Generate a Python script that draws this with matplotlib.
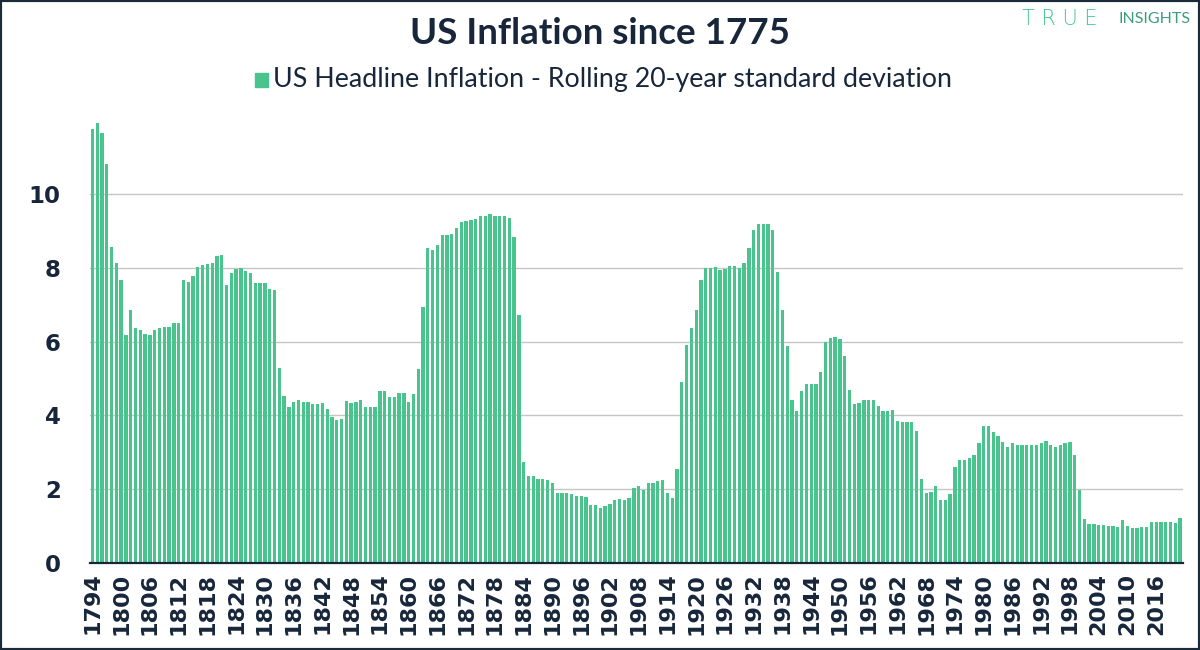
import matplotlib
matplotlib.use("Agg")
import matplotlib.pyplot as plt
from matplotlib.patches import Rectangle
import numpy as np

start_year = 1794
values = [
    # 1794-1849
    11.76, 11.94, 11.67, 10.83, 8.57, 8.14, 7.67, 6.18, 6.85, 6.36,
    6.33, 6.20, 6.17, 6.33, 6.38, 6.41, 6.41, 6.50, 6.51, 7.67,
    7.61, 7.78, 8.03, 8.09, 8.11, 8.12, 8.31, 8.34, 7.54, 7.86,
    7.97, 7.99, 7.92, 7.85, 7.60, 7.60, 7.60, 7.44, 7.40, 5.30,
    4.53, 4.23, 4.36, 4.41, 4.37, 4.37, 4.32, 4.32, 4.33, 4.17,
    3.95, 3.89, 3.90, 4.38, 4.34, 4.36,
    # 1850-1908
    4.41, 4.24, 4.24, 4.23, 4.66, 4.66, 4.50, 4.50, 4.62, 4.62,
    4.36, 4.57, 5.27, 6.95, 8.53, 8.49, 8.62, 8.90, 8.90, 8.92,
    9.09, 9.25, 9.26, 9.31, 9.33, 9.40, 9.41, 9.45, 9.42, 9.42,
    9.42, 9.36, 8.85, 6.72, 2.74, 2.35, 2.35, 2.27, 2.27, 2.24,
    2.17, 1.91, 1.91, 1.91, 1.86, 1.82, 1.81, 1.79, 1.58, 1.58,
    1.48, 1.54, 1.59, 1.71, 1.73, 1.71, 1.75, 2.02, 2.08,
    # 1909-1966
    1.97, 2.18, 2.18, 2.22, 2.24, 1.90, 1.75, 2.54, 4.91, 5.91,
    6.38, 6.86, 7.67, 7.99, 7.99, 8.02, 7.95, 7.97, 8.06, 8.05,
    8.01, 8.12, 8.53, 9.03, 9.19, 9.19, 9.19, 9.02, 7.90, 6.86,
    5.89, 4.42, 4.11, 4.65, 4.84, 4.86, 4.84, 5.19, 5.98, 6.11,
    6.14, 6.06, 5.62, 4.69, 4.30, 4.35, 4.43, 4.43, 4.43, 4.25,
    4.13, 4.11, 4.14, 3.85, 3.81, 3.81, 3.81, 3.58,
    # 1967-2021
    2.27, 1.91, 1.93, 2.08, 1.71, 1.72, 1.88, 2.61, 2.79, 2.79,
    2.85, 2.94, 3.24, 3.71, 3.72, 3.56, 3.43, 3.28, 3.15, 3.24,
    3.19, 3.19, 3.19, 3.21, 3.21, 3.24, 3.31, 3.19, 3.15, 3.19,
    3.25, 3.28, 2.93, 1.97, 1.19, 1.07, 1.07, 1.04, 1.04, 1.00,
    0.99, 0.98, 1.16, 1.00, 0.94, 0.94, 0.97, 0.97, 1.10, 1.10,
    1.10, 1.10, 1.10, 1.08, 1.23,
]
years = list(range(start_year, start_year + len(values)))
tick_years = list(range(1794, 2017, 6))
y_ticks = [0, 2, 4, 6, 8, 10]

title = "US Inflation since 1775"
series_name = "US Headline Inflation - Rolling 20-year standard deviation"

GREEN = "#48c48c"
NAVY = "#17263a"

fig = plt.figure(figsize=(12, 6.5), dpi=100)
fig.patch.set_facecolor("white")
ax = fig.add_axes([90 / 1200, 1 - 563 / 650, 1093 / 1200, 450 / 650])

ax.bar(years, values, width=0.69, color=GREEN, zorder=2)
ax.set_xlim(years[0] - 0.5, years[-1] + 0.6)
ax.set_ylim(0, 12.2)

ax.set_yticks(y_ticks)
ax.set_yticklabels([str(v) for v in y_ticks], fontsize=16.5, fontweight="bold",
                   color=NAVY, family="DejaVu Sans")
ax.set_xticks(tick_years)
ax.set_xticklabels([str(y) for y in tick_years], rotation=90, fontsize=16,
                   fontweight="bold", color=NAVY, family="DejaVu Sans")
ax.tick_params(axis="both", length=0)
ax.tick_params(axis="y", pad=21)
ax.tick_params(axis="x", pad=7)

ax.grid(axis="y", color="#c6c6c6", linewidth=1.0, zorder=0)
ax.set_axisbelow(True)
for s in ["top", "right", "left"]:
    ax.spines[s].set_visible(False)
ax.spines["bottom"].set_color(NAVY)
ax.spines["bottom"].set_linewidth(1.6)
ax.spines["bottom"].set_zorder(3)

# Title
fig.text(0.5, 1 - 33 / 650, title, ha="center", va="center", fontsize=26.5,
         fontweight="bold", color=NAVY, family="Lato")

# Legend (manual)
fig.text(273 / 1200, 1 - 80 / 650, series_name, ha="left", va="center",
         fontsize=19.3, color=NAVY, family="Lato")
fig.patches.append(Rectangle((255 / 1200, 1 - 87 / 650), 13 / 1200, 14 / 650,
                             transform=fig.transFigure, color=GREEN, zorder=5))

# Logo
fig.text(1098 / 1200, 1 - 19 / 650, "T R U E", ha="right", va="center", fontsize=15,
         color="#48c48c", family="DejaVu Sans", fontweight="light")
fig.text(1190 / 1200, 1 - 19 / 650, "INSIGHTS", ha="right", va="center", fontsize=11.5,
         color="#3a9c7a", family="Lato")

# Frame border
fig.patches.append(Rectangle((0, 0), 1, 1, transform=fig.transFigure, fill=False,
                             edgecolor="#1c2b3a", linewidth=3, zorder=10))

fig.savefig("out.png", dpi=100, facecolor="white")
